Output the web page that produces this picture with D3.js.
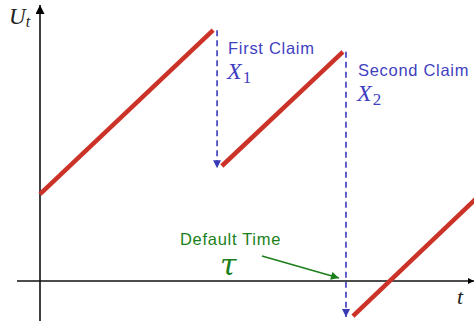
<!DOCTYPE html>
<html>
<head>
<meta charset="utf-8">
<script src="https://cdn.jsdelivr.net/npm/d3@7.9.0/dist/d3.min.js"></script>
<style>
  body { margin: 0; background: #fff; }
  svg { display: block; }
</style>
</head>
<body>
<svg width="474" height="321"></svg>
<script>
// surplus path pieces, [t, U] pairs
const segments = [
  [[0, 2.0], [3.99, 5.78]],
  [[4.19, 2.65], [6.98, 5.28]],
  [[7.21, -0.81], [10.05, 1.9]]
];
// claims: time, level before, level after
const claims = [
  { t: 4.08, from: 5.78, to: 2.60, name: "First Claim", sym: "X", sub: "1" },
  { t: 7.05, from: 5.28, to: -0.83, name: "Second Claim", sym: "X", sub: "2" }
];
const ruinLabel = "Default Time";
const ruinTime = 7.05;

const svg = d3.select("svg");
const x = d3.scaleLinear().domain([0, 10]).range([40, 474]);
const y = d3.scaleLinear().domain([0, 10]).range([281, -153]);

const defs = svg.append("defs");
function marker(id, color, w, h) {
  defs.append("marker")
      .attr("id", id)
      .attr("viewBox", "0 0 10 10")
      .attr("refX", 10).attr("refY", 5)
      .attr("markerUnits", "userSpaceOnUse")
      .attr("markerWidth", w).attr("markerHeight", h)
      .attr("orient", "auto")
    .append("path")
      .attr("d", "M0,0L10,5L0,10z")
      .attr("fill", color);
}
marker("ab", "#000", 10, 9);
marker("ax", "#000", 6, 6);
marker("ablue", "#3a3ab8", 9, 8);
marker("agreen", "#1b7f1b", 10, 8);

// axes
svg.append("line")
    .attr("x1", x(0)).attr("y1", 321)
    .attr("x2", x(0)).attr("y2", 5)
    .attr("stroke", "#111").attr("stroke-width", 1.6)
    .attr("marker-end", "url(#ab)");
svg.append("line")
    .attr("x1", x(-0.53)).attr("y1", y(0))
    .attr("x2", 474).attr("y2", y(0))
    .attr("stroke", "#111").attr("stroke-width", 1.6)
    .attr("marker-end", "url(#ax)");

// claim jumps
svg.selectAll(".claim").data(claims).join("line")
    .attr("x1", d => x(d.t)).attr("y1", d => y(d.from))
    .attr("x2", d => x(d.t)).attr("y2", d => y(d.to))
    .attr("stroke", "#3a3ab8").attr("stroke-width", 1.6)
    .attr("stroke-dasharray", "6,4")
    .attr("marker-end", "url(#ablue)");

// surplus lines
const line = d3.line().x(d => x(d[0])).y(d => y(d[1]));
svg.selectAll(".seg").data(segments).join("path")
    .attr("d", line)
    .attr("stroke", "#cc3328").attr("stroke-width", 4.5)
    .attr("fill", "none");

const sans = "Liberation Sans, Arial, sans-serif";
const serif = "Liberation Serif, serif";

// claim labels
claims.forEach((c, i) => {
  const lx = x(c.t) + (i === 0 ? 11 : 12);
  const ly = y(c.from) + 24;
  svg.append("text")
      .attr("x", lx).attr("y", ly)
      .attr("font-family", sans)
      .attr("font-size", 16.5)
      .attr("letter-spacing", 0.7)
      .attr("fill", "#3f3fbf")
      .text(c.name);
  const t = svg.append("text")
      .attr("x", lx - 1).attr("y", ly + 25)
      .attr("font-family", serif)
      .attr("fill", "#3f3fbf");
  t.append("tspan").attr("font-size", 24).attr("font-style", "italic").text(c.sym);
  t.append("tspan").attr("font-size", 17).attr("dy", 4).attr("dx", 1).text(c.sub);
});

// default time
svg.append("text")
    .attr("x", 180).attr("y", 245)
    .attr("font-family", sans)
    .attr("font-size", 16.5)
    .attr("letter-spacing", 0.7)
    .attr("fill", "#1b7f1b")
    .text(ruinLabel);
svg.append("text")
    .attr("x", 220).attr("y", 275)
    .attr("font-family", "DejaVu Serif, serif")
    .attr("font-style", "italic")
    .attr("font-size", 30)
    .attr("fill", "#1b7f1b")
    .text("τ");
svg.append("line")
    .attr("x1", 262).attr("y1", 256)
    .attr("x2", x(ruinTime) - 7).attr("y2", y(0) - 3)
    .attr("stroke", "#1b7f1b").attr("stroke-width", 1.6)
    .attr("marker-end", "url(#agreen)");

// axis labels
const ul = svg.append("text")
    .attr("x", 9).attr("y", 24)
    .attr("font-family", serif)
    .attr("fill", "#222");
ul.append("tspan").attr("font-style", "italic").attr("font-size", 23).text("U");
ul.append("tspan").attr("font-style", "italic").attr("font-size", 16).attr("dy", 3).text("t");
svg.append("text")
    .attr("x", 457).attr("y", 304)
    .attr("font-family", serif)
    .attr("font-style", "italic")
    .attr("font-size", 22)
    .attr("fill", "#222")
    .text("t");
</script>
</body>
</html>
